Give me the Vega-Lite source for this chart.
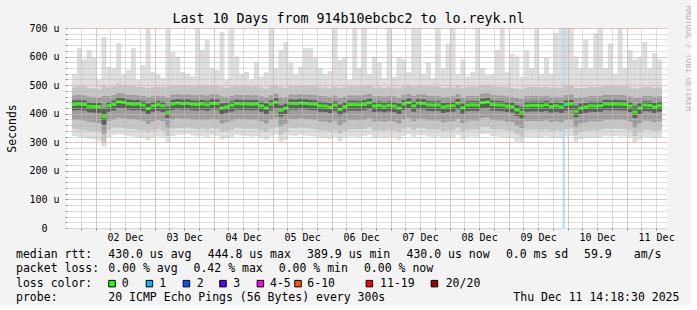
{
"$schema": "https://vega.github.io/schema/vega-lite/v6.json",
"background": "#f3f3f3",
"padding": {"left": 6, "top": 5, "right": 0, "bottom": 0},
"spacing": 6,
"config": {"view": {"stroke": null}, "font": "DejaVu Sans Mono", "axis": {"labelFont": "DejaVu Sans Mono", "titleFont": "DejaVu Sans Mono"}},
"datasets": {
"smoke": [
{"h":15.4,"mx":540,"a":492,"b":463,"c":447,"m":432,"d":412,"e":380,"f":348,"mn":322},
{"h":17.4,"mx":630,"a":498,"b":466,"c":448,"m":434,"d":413,"e":378,"f":345,"mn":318},
{"h":19.4,"mx":590,"a":495,"b":464,"c":446,"m":432,"d":411,"e":376,"f":344,"mn":316},
{"h":21.4,"mx":623,"a":490,"b":460,"c":440,"m":426,"d":405,"e":372,"f":340,"mn":312},
{"h":23.4,"mx":595,"a":488,"b":458,"c":439,"m":425,"d":404,"e":370,"f":338,"mn":310},
{"h":25.4,"mx":520,"a":486,"b":457,"c":439,"m":425,"d":403,"e":368,"f":336,"mn":306},
{"h":27.4,"mx":669,"a":500,"b":462,"c":420,"m":390,"d":362,"e":330,"f":300,"mn":285},
{"h":29.4,"mx":564,"a":492,"b":462,"c":442,"m":428,"d":407,"e":376,"f":344,"mn":318},
{"h":31.4,"mx":560,"a":496,"b":465,"c":446,"m":432,"d":411,"e":380,"f":350,"mn":325},
{"h":33.4,"mx":648,"a":505,"b":472,"c":456,"m":442,"d":420,"e":386,"f":352,"mn":328},
{"h":35.4,"mx":540,"a":500,"b":470,"c":454,"m":440,"d":418,"e":384,"f":350,"mn":326},
{"h":37.4,"mx":553,"a":498,"b":466,"c":449,"m":435,"d":414,"e":382,"f":348,"mn":322},
{"h":39.4,"mx":630,"a":496,"b":465,"c":447,"m":433,"d":412,"e":380,"f":346,"mn":320},
{"h":41.4,"mx":520,"a":494,"b":464,"c":448,"m":434,"d":413,"e":378,"f":345,"mn":318},
{"h":43.4,"mx":570,"a":492,"b":462,"c":444,"m":430,"d":409,"e":375,"f":342,"mn":315},
{"h":45.4,"mx":760,"a":490,"b":458,"c":436,"m":418,"d":398,"e":365,"f":335,"mn":308},
{"h":47.4,"mx":546,"a":492,"b":461,"c":442,"m":428,"d":407,"e":374,"f":342,"mn":316},
{"h":49.4,"mx":540,"a":494,"b":463,"c":445,"m":431,"d":410,"e":378,"f":346,"mn":320},
{"h":51.4,"mx":525,"a":492,"b":461,"c":442,"m":428,"d":406,"e":374,"f":342,"mn":318},
{"h":53.4,"mx":760,"a":495,"b":458,"c":425,"m":405,"d":385,"e":352,"f":322,"mn":300},
{"h":55.4,"mx":616,"a":498,"b":466,"c":448,"m":434,"d":413,"e":380,"f":348,"mn":322},
{"h":57.4,"mx":600,"a":500,"b":468,"c":451,"m":437,"d":416,"e":384,"f":350,"mn":325},
{"h":59.4,"mx":546,"a":497,"b":466,"c":449,"m":435,"d":414,"e":382,"f":350,"mn":326},
{"h":61.4,"mx":540,"a":498,"b":467,"c":450,"m":436,"d":415,"e":383,"f":352,"mn":328},
{"h":63.4,"mx":530,"a":496,"b":465,"c":447,"m":433,"d":412,"e":380,"f":348,"mn":324},
{"h":65.4,"mx":760,"a":498,"b":464,"c":446,"m":432,"d":411,"e":378,"f":346,"mn":320},
{"h":67.4,"mx":623,"a":500,"b":466,"c":448,"m":434,"d":413,"e":380,"f":348,"mn":322},
{"h":69.4,"mx":658,"a":496,"b":463,"c":445,"m":431,"d":410,"e":377,"f":345,"mn":318},
{"h":71.4,"mx":560,"a":500,"b":468,"c":450,"m":436,"d":415,"e":382,"f":350,"mn":325},
{"h":73.4,"mx":553,"a":498,"b":467,"c":450,"m":436,"d":414,"e":381,"f":348,"mn":322},
{"h":75.4,"mx":686,"a":494,"b":460,"c":436,"m":420,"d":398,"e":366,"f":336,"mn":310},
{"h":77.4,"mx":520,"a":490,"b":458,"c":438,"m":424,"d":403,"e":370,"f":340,"mn":314},
{"h":79.4,"mx":760,"a":494,"b":462,"c":444,"m":430,"d":408,"e":376,"f":344,"mn":318},
{"h":81.4,"mx":600,"a":498,"b":466,"c":449,"m":435,"d":414,"e":382,"f":350,"mn":326},
{"h":83.4,"mx":540,"a":496,"b":465,"c":448,"m":434,"d":413,"e":381,"f":349,"mn":324},
{"h":85.4,"mx":546,"a":497,"b":465,"c":448,"m":434,"d":413,"e":380,"f":348,"mn":322},
{"h":87.4,"mx":520,"a":495,"b":464,"c":447,"m":433,"d":412,"e":379,"f":347,"mn":320},
{"h":89.4,"mx":580,"a":496,"b":465,"c":448,"m":434,"d":413,"e":380,"f":348,"mn":322},
{"h":91.4,"mx":530,"a":492,"b":461,"c":442,"m":428,"d":407,"e":374,"f":342,"mn":316},
{"h":93.4,"mx":545,"a":488,"b":456,"c":436,"m":420,"d":399,"e":366,"f":336,"mn":310},
{"h":95.4,"mx":760,"a":496,"b":464,"c":447,"m":433,"d":412,"e":379,"f":347,"mn":320},
{"h":97.4,"mx":560,"a":500,"b":470,"c":454,"m":440,"d":418,"e":384,"f":352,"mn":326},
{"h":99.4,"mx":623,"a":494,"b":458,"c":430,"m":412,"d":390,"e":356,"f":326,"mn":302},
{"h":101.4,"mx":651,"a":490,"b":456,"c":435,"m":419,"d":398,"e":365,"f":335,"mn":308},
{"h":103.4,"mx":578,"a":498,"b":467,"c":450,"m":436,"d":415,"e":382,"f":350,"mn":324},
{"h":105.4,"mx":540,"a":497,"b":466,"c":449,"m":435,"d":414,"e":381,"f":349,"mn":322},
{"h":107.4,"mx":564,"a":500,"b":468,"c":451,"m":437,"d":416,"e":384,"f":352,"mn":326},
{"h":109.4,"mx":630,"a":498,"b":467,"c":450,"m":436,"d":415,"e":382,"f":350,"mn":324},
{"h":111.4,"mx":630,"a":497,"b":466,"c":448,"m":434,"d":413,"e":380,"f":348,"mn":322},
{"h":113.4,"mx":595,"a":496,"b":465,"c":447,"m":433,"d":412,"e":379,"f":346,"mn":320},
{"h":115.4,"mx":560,"a":492,"b":462,"c":442,"m":428,"d":407,"e":374,"f":342,"mn":316},
{"h":117.4,"mx":540,"a":492,"b":461,"c":441,"m":427,"d":406,"e":373,"f":341,"mn":315},
{"h":119.4,"mx":550,"a":488,"b":458,"c":437,"m":423,"d":402,"e":369,"f":338,"mn":312},
{"h":121.4,"mx":760,"a":494,"b":463,"c":444,"m":430,"d":409,"e":376,"f":344,"mn":318},
{"h":123.4,"mx":588,"a":490,"b":456,"c":432,"m":415,"d":394,"e":360,"f":330,"mn":304},
{"h":125.4,"mx":595,"a":492,"b":460,"c":440,"m":425,"d":404,"e":370,"f":340,"mn":314},
{"h":127.4,"mx":520,"a":496,"b":464,"c":446,"m":432,"d":411,"e":378,"f":346,"mn":320},
{"h":129.4,"mx":760,"a":496,"b":464,"c":446,"m":432,"d":411,"e":378,"f":346,"mn":320},
{"h":131.4,"mx":560,"a":495,"b":463,"c":445,"m":431,"d":410,"e":377,"f":345,"mn":318},
{"h":133.4,"mx":760,"a":496,"b":465,"c":447,"m":433,"d":412,"e":379,"f":347,"mn":322},
{"h":135.4,"mx":540,"a":500,"b":469,"c":452,"m":438,"d":417,"e":384,"f":352,"mn":326},
{"h":137.4,"mx":600,"a":492,"b":461,"c":441,"m":427,"d":406,"e":373,"f":342,"mn":316},
{"h":139.4,"mx":580,"a":494,"b":462,"c":443,"m":429,"d":408,"e":375,"f":343,"mn":318},
{"h":141.4,"mx":525,"a":490,"b":460,"c":440,"m":426,"d":405,"e":372,"f":340,"mn":314},
{"h":143.4,"mx":760,"a":494,"b":462,"c":443,"m":429,"d":408,"e":375,"f":344,"mn":318},
{"h":145.4,"mx":530,"a":492,"b":461,"c":441,"m":427,"d":406,"e":373,"f":342,"mn":316},
{"h":147.4,"mx":595,"a":488,"b":456,"c":436,"m":420,"d":399,"e":366,"f":336,"mn":310},
{"h":149.4,"mx":590,"a":496,"b":465,"c":448,"m":434,"d":413,"e":380,"f":348,"mn":322},
{"h":151.4,"mx":545,"a":500,"b":469,"c":453,"m":439,"d":418,"e":385,"f":352,"mn":328},
{"h":153.4,"mx":760,"a":494,"b":462,"c":442,"m":428,"d":407,"e":374,"f":343,"mn":318},
{"h":155.4,"mx":760,"a":500,"b":468,"c":451,"m":437,"d":416,"e":383,"f":351,"mn":325},
{"h":157.4,"mx":540,"a":498,"b":467,"c":450,"m":436,"d":415,"e":382,"f":350,"mn":324},
{"h":159.4,"mx":580,"a":495,"b":463,"c":445,"m":431,"d":410,"e":377,"f":345,"mn":320},
{"h":161.4,"mx":525,"a":494,"b":462,"c":444,"m":430,"d":409,"e":376,"f":344,"mn":318},
{"h":163.4,"mx":760,"a":495,"b":463,"c":445,"m":431,"d":410,"e":377,"f":345,"mn":320},
{"h":165.4,"mx":560,"a":490,"b":458,"c":438,"m":424,"d":403,"e":370,"f":340,"mn":314},
{"h":167.4,"mx":646,"a":492,"b":460,"c":441,"m":427,"d":406,"e":373,"f":342,"mn":316},
{"h":169.4,"mx":760,"a":492,"b":461,"c":442,"m":428,"d":407,"e":374,"f":343,"mn":318},
{"h":171.4,"mx":540,"a":500,"b":468,"c":451,"m":437,"d":416,"e":383,"f":351,"mn":325},
{"h":173.4,"mx":590,"a":490,"b":457,"c":436,"m":421,"d":400,"e":367,"f":337,"mn":310},
{"h":175.4,"mx":530,"a":494,"b":462,"c":444,"m":430,"d":409,"e":376,"f":344,"mn":318},
{"h":177.4,"mx":545,"a":495,"b":463,"c":445,"m":431,"d":410,"e":377,"f":345,"mn":320},
{"h":179.4,"mx":760,"a":494,"b":462,"c":444,"m":430,"d":409,"e":376,"f":344,"mn":318},
{"h":181.4,"mx":560,"a":500,"b":470,"c":453,"m":439,"d":418,"e":385,"f":353,"mn":328},
{"h":183.4,"mx":535,"a":502,"b":472,"c":455,"m":441,"d":420,"e":387,"f":355,"mn":330},
{"h":185.4,"mx":540,"a":496,"b":465,"c":446,"m":432,"d":411,"e":378,"f":346,"mn":322},
{"h":187.4,"mx":623,"a":495,"b":464,"c":445,"m":431,"d":410,"e":377,"f":345,"mn":320},
{"h":189.4,"mx":760,"a":494,"b":463,"c":444,"m":430,"d":409,"e":376,"f":344,"mn":318},
{"h":191.4,"mx":545,"a":492,"b":461,"c":441,"m":427,"d":406,"e":373,"f":342,"mn":316},
{"h":193.4,"mx":610,"a":490,"b":459,"c":439,"m":425,"d":404,"e":371,"f":340,"mn":314},
{"h":195.4,"mx":600,"a":488,"b":455,"c":430,"m":413,"d":392,"e":358,"f":328,"mn":302},
{"h":197.4,"mx":530,"a":486,"b":452,"c":424,"m":405,"d":384,"e":350,"f":320,"mn":298},
{"h":199.4,"mx":623,"a":492,"b":461,"c":442,"m":428,"d":407,"e":374,"f":343,"mn":318},
{"h":201.4,"mx":560,"a":494,"b":462,"c":443,"m":429,"d":408,"e":375,"f":344,"mn":318},
{"h":203.4,"mx":760,"a":494,"b":462,"c":443,"m":429,"d":408,"e":375,"f":344,"mn":318},
{"h":205.4,"mx":540,"a":492,"b":461,"c":442,"m":428,"d":407,"e":374,"f":342,"mn":316},
{"h":207.4,"mx":595,"a":494,"b":463,"c":445,"m":431,"d":410,"e":377,"f":345,"mn":320},
{"h":209.4,"mx":540,"a":490,"b":458,"c":439,"m":425,"d":404,"e":371,"f":340,"mn":314},
{"h":211.4,"mx":682,"a":492,"b":460,"c":442,"m":428,"d":407,"e":374,"f":342,"mn":316},
{"h":213.4,"mx":760,"a":490,"b":458,"c":438,"m":424,"d":403,"e":370,"f":340,"mn":314},
{"h":215.4,"mx":760,"a":496,"b":465,"c":446,"m":432,"d":411,"e":378,"f":346,"mn":320},
{"h":217.4,"mx":760,"a":498,"b":467,"c":448,"m":434,"d":413,"e":380,"f":348,"mn":322},
{"h":219.4,"mx":600,"a":490,"b":455,"c":428,"m":408,"d":388,"e":354,"f":324,"mn":300},
{"h":221.4,"mx":560,"a":490,"b":458,"c":436,"m":420,"d":399,"e":366,"f":336,"mn":310},
{"h":223.4,"mx":658,"a":490,"b":458,"c":438,"m":424,"d":403,"e":370,"f":340,"mn":314},
{"h":225.4,"mx":560,"a":494,"b":462,"c":442,"m":428,"d":407,"e":374,"f":342,"mn":316},
{"h":227.4,"mx":682,"a":492,"b":461,"c":441,"m":427,"d":406,"e":373,"f":342,"mn":316},
{"h":229.4,"mx":760,"a":494,"b":462,"c":442,"m":428,"d":407,"e":374,"f":343,"mn":318},
{"h":231.4,"mx":560,"a":498,"b":466,"c":448,"m":434,"d":413,"e":380,"f":348,"mn":322},
{"h":233.4,"mx":646,"a":496,"b":465,"c":447,"m":433,"d":412,"e":379,"f":347,"mn":320},
{"h":235.4,"mx":540,"a":498,"b":466,"c":448,"m":434,"d":413,"e":380,"f":348,"mn":322},
{"h":237.4,"mx":760,"a":496,"b":465,"c":447,"m":433,"d":412,"e":379,"f":347,"mn":320},
{"h":239.4,"mx":560,"a":496,"b":464,"c":446,"m":432,"d":411,"e":378,"f":346,"mn":320},
{"h":241.4,"mx":623,"a":492,"b":461,"c":441,"m":427,"d":406,"e":373,"f":342,"mn":316},
{"h":243.4,"mx":590,"a":488,"b":455,"c":426,"m":406,"d":385,"e":352,"f":322,"mn":300},
{"h":245.4,"mx":595,"a":490,"b":458,"c":436,"m":420,"d":399,"e":366,"f":336,"mn":310},
{"h":247.4,"mx":651,"a":494,"b":462,"c":444,"m":430,"d":409,"e":376,"f":344,"mn":318},
{"h":249.4,"mx":560,"a":494,"b":462,"c":443,"m":429,"d":408,"e":375,"f":344,"mn":318},
{"h":251.4,"mx":612,"a":490,"b":459,"c":438,"m":424,"d":403,"e":370,"f":340,"mn":314},
{"h":253.4,"mx":590,"a":492,"b":461,"c":442,"m":428,"d":407,"e":374,"f":342,"mn":316}
],
"loss": [{"h":214.4,"m":430,"lbl":"1"}],
"legtext": [
{"row":0,"col":0,"txt":"median rtt:"},{"row":0,"col":13,"txt":"430.0 us avg"},{"row":0,"col":27,"txt":"444.8 us max"},{"row":0,"col":41,"txt":"389.9 us min"},{"row":0,"col":55,"txt":"430.0 us now"},{"row":0,"col":69,"txt":"0.0 ms sd"},{"row":0,"col":80,"txt":"59.9"},{"row":0,"col":87,"txt":"am/s"},
{"row":1,"col":0,"txt":"packet loss:"},{"row":1,"col":13,"txt":"0.00 % avg"},{"row":1,"col":25,"txt":"0.42 % max"},{"row":1,"col":37,"txt":"0.00 % min"},{"row":1,"col":49,"txt":"0.00 % now"},
{"row":2,"col":0,"txt":"loss color:"},{"row":2,"col":14.89,"txt":"0"},{"row":2,"col":20.18,"txt":"1"},{"row":2,"col":25.45,"txt":"2"},{"row":2,"col":30.61,"txt":"3"},{"row":2,"col":35.77,"txt":"4-5"},{"row":2,"col":41.03,"txt":"6-10"},{"row":2,"col":51.27,"txt":"11-19"},{"row":2,"col":60.52,"txt":"20/20"},
{"row":3,"col":0,"txt":"probe:"},{"row":3,"col":13,"txt":"20 ICMP Echo Pings (56 Bytes) every 300s"},{"row":3,"col":70.04,"txt":"Thu Dec 11 14:18:30 2025"}
],
"legsq": [
{"row":2,"col":13.52,"lbl":"0"},{"row":2,"col":18.79,"lbl":"1"},{"row":2,"col":24.0,"lbl":"2"},{"row":2,"col":29.15,"lbl":"3"},{"row":2,"col":34.42,"lbl":"4-5"},{"row":2,"col":39.72,"lbl":"6-10"},{"row":2,"col":49.77,"lbl":"11-19"},{"row":2,"col":58.93,"lbl":"20/20"}
]
},
"vconcat": [
{
"width": 600, "height": 200,
"view": {"fill": "#ffffff", "stroke": null},
"resolve": {"axis": {"x": "independent", "y": "independent"}},
"layer": [
{"data": {"name": "smoke"}, "mark": {"type": "bar", "width": 5, "color": "#dddddd", "clip": true},
 "encoding": {
  "x": {"field": "h", "type": "quantitative", "scale": {"domain": [14.4, 254.4], "nice": false, "zero": false},
        "axis": {"orient": "bottom", "values": [18,24,30,36,42,48,54,60,66,72,78,84,90,96,102,108,114,120,126,132,138,144,150,156,162,168,174,180,186,192,198,204,210,216,222,228,234,240,246,252], "grid": true, "gridColor": "#bdbdbd", "gridDash": [1,1], "labels": false, "ticks": true, "tickSize": 2, "tickColor": "#888888", "domain": false, "title": null, "zindex": 1}},
  "y": {"field": "mn", "type": "quantitative", "scale": {"domain": [0, 700], "nice": false, "zero": false},
        "axis": {"orient": "left", "values": [0,20,40,60,80,100,120,140,160,180,200,220,240,260,280,300,320,340,360,380,400,420,440,460,480,500,520,540,560,580,600,620,640,660,680,700], "grid": true, "gridColor": "#bdbdbd", "gridDash": [1,1], "labels": false, "ticks": true, "tickSize": 2, "tickColor": "#888888", "domain": false, "title": null, "zindex": 1}},
  "y2": {"field": "mx"}
 }},
{"data": {"name": "loss"}, "mark": {"type": "bar", "width": 2, "color": "#a6dff8", "clip": true},
 "encoding": {
  "x": {"field": "h", "type": "quantitative", "scale": {"domain": [14.4, 254.4], "nice": false, "zero": false},
        "axis": {"orient": "bottom", "values": [24,48,72,96,120,144,168,192,216,240], "grid": true, "gridColor": "#f3a3a3", "gridDash": [1,1], "labels": false, "ticks": false, "domain": false, "title": null, "zindex": 1}},
  "y": {"datum": 0, "type": "quantitative", "scale": {"domain": [0, 700], "nice": false, "zero": false},
        "axis": {"orient": "left", "values": [100,200,300,400,500,600,700], "grid": true, "gridColor": "#f3a3a3", "gridDash": [1,1], "labels": false, "ticks": false, "domain": false, "title": null, "zindex": 1}},
  "y2": {"datum": 700}
 }},
{"data": {"name": "smoke"}, "mark": {"type": "bar", "width": 5, "color": "#c4c4c4", "clip": true},
 "encoding": {
  "x": {"field": "h", "type": "quantitative", "scale": {"domain": [14.4, 254.4], "nice": false, "zero": false},
        "axis": {"orient": "bottom", "values": [36,60,84,108,132,156,180,204,228,252], "labelExpr": "(floor(datum.value/24)+1 < 10 ? '0' : '') + (floor(datum.value/24)+1) + ' Dec'", "labelFont": "DejaVu Sans Mono", "labelFontSize": 10, "labelColor": "#000000", "labelPadding": 4, "labelFlush": false, "grid": false, "ticks": false, "domain": false, "title": null}},
  "y": {"field": "f", "type": "quantitative", "scale": {"domain": [0, 700], "nice": false, "zero": false},
        "axis": {"orient": "left", "values": [100,200,300,400,500,600,700], "labelExpr": "datum.value + ' u'", "labelFont": "DejaVu Sans Mono", "labelFontSize": 10, "labelColor": "#000000", "labelPadding": 8, "labelBaseline": "middle", "grid": false, "ticks": false, "domain": false,
                 "title": "Seconds", "titleFont": "DejaVu Sans Mono", "titleFontSize": 11.5, "titleFontWeight": "normal", "titleColor": "#000000", "titleX": -55, "titleY": 100, "titleAngle": -90, "titleAlign": "center", "titleBaseline": "middle"}},
  "y2": {"field": "a"}
 }},
{"data": {"name": "smoke"}, "mark": {"type": "bar", "width": 5, "color": "#9c9c9c", "clip": true},
 "encoding": {
  "x": {"field": "h", "type": "quantitative", "scale": {"domain": [14.4, 254.4], "nice": false, "zero": false},
        "axis": {"orient": "top", "labels": false, "ticks": false, "domain": false, "grid": false, "title": "Last 10 Days from 914b10ebcbc2 to lo.reyk.nl", "titleFont": "DejaVu Sans Mono", "titleFontSize": 13.3, "titleFontWeight": "normal", "titleColor": "#000000", "titleX": 281, "titleY": -10, "titleAngle": 0, "titleAlign": "center", "titleBaseline": "middle"}},
  "y": {"field": "e", "type": "quantitative", "scale": {"domain": [0, 700], "nice": false, "zero": false},
        "axis": {"orient": "right", "labels": false, "ticks": false, "domain": false, "grid": false, "title": "RRDTOOL / TOBI OETIKER", "titleFont": "DejaVu Sans Mono", "titleFontSize": 8, "titleFontWeight": "normal", "titleColor": "#b4b4b4", "titleX": 20, "titleY": 30, "titleAngle": 90, "titleAlign": "center", "titleBaseline": "middle"}},
  "y2": {"field": "b"}
 }},
{"data": {"name": "smoke"}, "mark": {"type": "bar", "width": 5, "color": "#5e5e5e", "clip": true},
 "encoding": {
  "x": {"field": "h", "type": "quantitative", "scale": {"domain": [14.4, 254.4], "nice": false, "zero": false}, "axis": null},
  "y": {"field": "d", "type": "quantitative", "scale": {"domain": [0, 700], "nice": false, "zero": false},
        "axis": {"orient": "left", "values": [0], "labelExpr": "'0'", "labelFont": "DejaVu Sans Mono", "labelFontSize": 10, "labelColor": "#000000", "labelPadding": 20, "labelBaseline": "middle", "grid": false, "ticks": false, "domain": false, "title": null}},
  "y2": {"field": "c"}
 }},
{"data": {"name": "smoke"}, "mark": {"type": "tick", "orient": "horizontal", "size": 5, "thickness": 3, "color": "#26ff00", "opacity": 1},
 "encoding": {
  "x": {"field": "h", "type": "quantitative", "scale": {"domain": [14.4, 254.4], "nice": false, "zero": false}, "axis": null},
  "y": {"field": "m", "type": "quantitative", "scale": {"domain": [0, 700], "nice": false, "zero": false}, "axis": null}
 }},
{"data": {"name": "loss"}, "mark": {"type": "tick", "orient": "horizontal", "size": 2, "thickness": 3, "color": "#00b8ff", "opacity": 1},
 "encoding": {
  "x": {"field": "h", "type": "quantitative", "scale": {"domain": [14.4, 254.4], "nice": false, "zero": false}, "axis": null},
  "y": {"field": "m", "type": "quantitative", "scale": {"domain": [0, 700], "nice": false, "zero": false}, "axis": null}
 }},
{"mark": {"type": "rule", "color": "#202020", "strokeWidth": 1},
 "encoding": {
  "x": {"datum": 14.4, "type": "quantitative", "scale": {"domain": [14.4, 254.4], "nice": false, "zero": false}, "axis": null},
  "y": {"datum": -12, "type": "quantitative", "scale": {"domain": [0, 700], "nice": false, "zero": false}, "axis": null},
  "y2": {"datum": 718}
 }},
{"mark": {"type": "rule", "color": "#202020", "strokeWidth": 1},
 "encoding": {
  "x": {"datum": 12.4, "type": "quantitative", "scale": {"domain": [14.4, 254.4], "nice": false, "zero": false}, "axis": null},
  "x2": {"datum": 255.2},
  "y": {"datum": 0, "type": "quantitative", "scale": {"domain": [0, 700], "nice": false, "zero": false}, "axis": null}
 }},
{"mark": {"type": "point", "shape": "triangle-up", "size": 30, "filled": true, "color": "#a01010", "opacity": 1},
 "encoding": {
  "x": {"datum": 14.4, "type": "quantitative", "scale": {"domain": [14.4, 254.4], "nice": false, "zero": false}, "axis": null},
  "y": {"datum": 716, "type": "quantitative", "scale": {"domain": [0, 700], "nice": false, "zero": false}, "axis": null}
 }},
{"mark": {"type": "point", "shape": "triangle-right", "size": 30, "filled": true, "color": "#a01010", "opacity": 1},
 "encoding": {
  "x": {"datum": 255.8, "type": "quantitative", "scale": {"domain": [14.4, 254.4], "nice": false, "zero": false}, "axis": null},
  "y": {"datum": 0, "type": "quantitative", "scale": {"domain": [0, 700], "nice": false, "zero": false}, "axis": null}
 }}
]
},
{
"width": 600, "height": 57,
"view": {"stroke": null},
"layer": [
{"data": {"name": "legtext"}, "mark": {"type": "text", "font": "DejaVu Sans Mono", "fontSize": 11.5, "align": "left", "baseline": "middle", "color": "#000000"},
 "encoding": {
  "x": {"field": "col", "type": "quantitative", "scale": {"domain": [7.18, 91.69], "nice": false, "zero": false}, "axis": null},
  "y": {"field": "row", "type": "quantitative", "scale": {"domain": [-0.5, 3.5], "reverse": true, "nice": false, "zero": false}, "axis": null},
  "text": {"field": "txt"}
 }},
{"data": {"name": "legsq"}, "mark": {"type": "point", "shape": "square", "size": 42, "filled": true, "stroke": "#000000", "strokeWidth": 1, "opacity": 1},
 "encoding": {
  "x": {"field": "col", "type": "quantitative", "scale": {"domain": [7.18, 91.69], "nice": false, "zero": false}, "axis": null},
  "y": {"field": "row", "type": "quantitative", "scale": {"domain": [-0.5, 3.5], "reverse": true, "nice": false, "zero": false}, "axis": null},
  "color": {"field": "lbl", "type": "nominal", "scale": {"domain": ["0","1","2","3","4-5","6-10","11-19","20/20"], "range": ["#26ff00","#00b8ff","#0059ff","#5e00ff","#ff00ff","#ff5500","#ff0000","#a10000"]}, "legend": null}
 }}
]
}
]
}
